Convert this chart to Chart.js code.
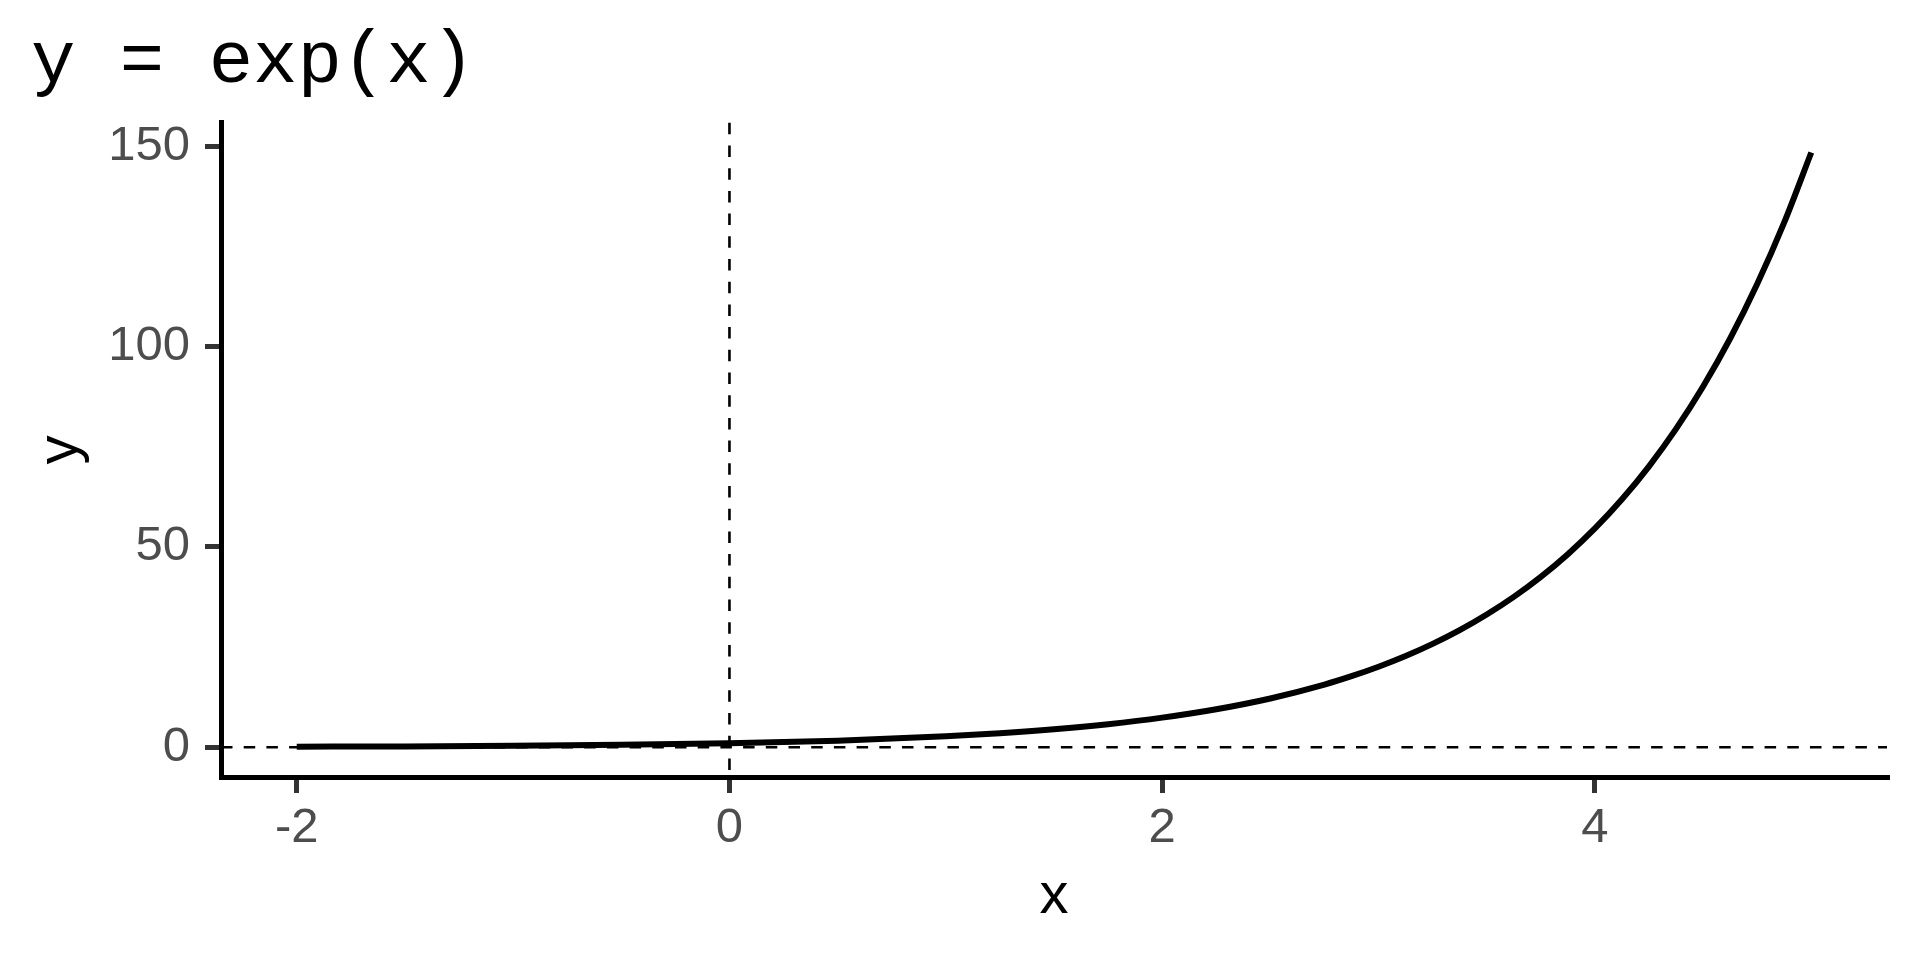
<!DOCTYPE html>
<html>
<head>
<meta charset="utf-8">
<style>
  html, body { margin: 0; padding: 0; background: #ffffff; }
  #wrap { width: 1920px; height: 960px; }
</style>
<script src="https://cdn.jsdelivr.net/npm/chart.js@4/dist/chart.umd.min.js"></script>
</head>
<body>
<div id="wrap"><canvas id="c" width="1920" height="960"></canvas></div>
<script>
// Values
const xValues = [-2, -1.5, -1, -0.5, 0, 0.5, 1, 1.25, 1.5, 1.75, 2, 2.25, 2.5, 2.75, 2.875, 3, 3.125, 3.25, 3.375, 3.5, 3.625, 3.75, 3.875, 4, 4.125, 4.25, 4.375, 4.5, 4.625, 4.75, 4.875, 5];
const yValues = [0.14, 0.22, 0.37, 0.61, 1.0, 1.65, 2.72, 3.49, 4.48, 5.75, 7.39, 9.49, 12.18, 15.64, 17.73, 20.09, 22.76, 25.79, 29.22, 33.12, 37.52, 42.52, 48.18, 54.6, 61.87, 70.11, 79.44, 90.02, 102.0, 115.58, 130.96, 148.41];
const xTicks = [-2, 0, 2, 4];
const yTicks = [0, 50, 100, 150];
const refLinesX = [0];
const refLinesY = [0];
const titleText = 'y = exp(x)';
const xTitle = 'x';
const yTitle = 'y';
const xRange = [-2.35, 5.35];
const yRange = [-7.42, 155.83];

const points = xValues.map((x, i) => ({ x: x, y: yValues[i] }));

const refLinePlugin = {
  id: 'refLines',
  beforeDatasetsDraw(chart) {
    const { ctx, chartArea, scales } = chart;
    ctx.save();
    ctx.strokeStyle = '#000000';
    ctx.lineWidth = 2.6;
    ctx.setLineDash([11.5, 11.2]);
    refLinesY.forEach(v => {
      const py = scales.y.getPixelForValue(v);
      ctx.beginPath();
      ctx.moveTo(chartArea.left, py);
      ctx.lineTo(chartArea.right, py);
      ctx.stroke();
    });
    refLinesX.forEach(v => {
      const px = scales.x.getPixelForValue(v);
      ctx.beginPath();
      ctx.moveTo(px, chartArea.top);
      ctx.lineTo(px, chartArea.bottom);
      ctx.stroke();
    });
    ctx.restore();
  }
};

new Chart(document.getElementById('c'), {
  type: 'line',
  data: {
    datasets: [{
      data: points,
      borderColor: '#000000',
      borderWidth: 6,
      pointRadius: 0,
      fill: false,
      cubicInterpolationMode: 'monotone',
      borderCapStyle: 'butt'
    }]
  },
  plugins: [refLinePlugin],
  options: {
    responsive: false,
    animation: false,
    devicePixelRatio: 1,
    layout: { padding: { left: 31, right: 33, top: 0, bottom: 0 } },
    plugins: {
      legend: { display: false },
      tooltip: { enabled: false },
      title: {
        display: true,
        text: titleText,
        align: 'start',
        color: '#000000',
        font: { family: '"Courier New", "Liberation Mono", monospace', size: 74, weight: 'normal', lineHeight: 1.2 },
        padding: { top: 18, bottom: 16 }
      }
    },
    scales: {
      x: {
        type: 'linear',
        min: xRange[0],
        max: xRange[1],
        afterBuildTicks(scale) { scale.ticks = xTicks.map(v => ({ value: v })); },
        afterFit(scale) { scale.height = 183; },
        border: { display: true, color: '#000000', width: 5 },
        grid: { display: true, drawOnChartArea: false, drawTicks: true, tickLength: 16, color: '#333333', lineWidth: 5 },
        ticks: {
          color: '#4D4D4D',
          font: { family: 'Arial, "Liberation Sans", sans-serif', size: 49 },
          padding: 6,
          maxRotation: 0,
          callback: v => String(v)
        },
        title: {
          display: true,
          text: xTitle,
          color: '#000000',
          font: { family: 'Arial, "Liberation Sans", sans-serif', size: 58 },
          padding: { top: 0, bottom: 28 }
        }
      },
      y: {
        type: 'linear',
        min: yRange[0],
        max: yRange[1],
        afterBuildTicks(scale) { scale.ticks = yTicks.map(v => ({ value: v })); },
        afterFit(scale) { scale.width = 190; },
        border: { display: true, color: '#000000', width: 5 },
        grid: { display: true, drawOnChartArea: false, drawTicks: true, tickLength: 16, color: '#333333', lineWidth: 5 },
        ticks: {
          color: '#4D4D4D',
          font: { family: 'Arial, "Liberation Sans", sans-serif', size: 49 },
          padding: 15,
          callback: v => String(v)
        },
        title: {
          display: true,
          text: yTitle,
          color: '#000000',
          font: { family: 'Arial, "Liberation Sans", sans-serif', size: 58, lineHeight: 1.05 },
          padding: { top: 0, bottom: 0 }
        }
      }
    }
  }
});
</script>
</body>
</html>
